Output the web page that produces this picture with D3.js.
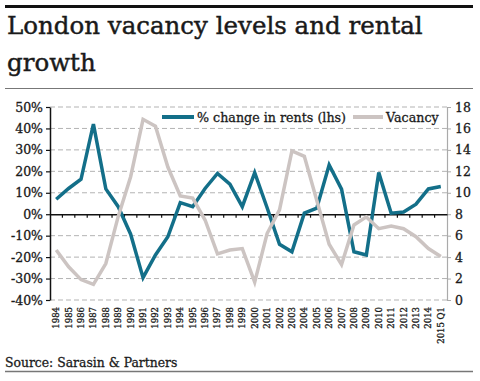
<!DOCTYPE html>
<html>
<head>
<meta charset="utf-8">
<script src="https://cdn.jsdelivr.net/npm/d3@7/dist/d3.min.js"></script>
<style>
  html, body { margin: 0; padding: 0; background: #fff; }
  svg { display: block; }
  text { paint-order: stroke; }
</style>
</head>
<body>
<svg id="chart" width="480" height="381"></svg>
<script>
const years = ["1984","1985","1986","1987","1988","1989","1990","1991","1992","1993","1994","1995","1996","1997","1998","1999","2000","2001","2002","2003","2004","2005","2006","2007","2008","2009","2010","2011","2012","2013","2014","2015 Q1"];
const rentChange = [7, 12, 16.3, 42, 11.8, 3.5, -9.3, -29.6, -19, -10.5, 5.4, 3.5, 12, 19, 14, 3.5, 19.4, 3, -14, -17.5, 0.5, 2.8, 23, 11.7, -17.5, -19, 19.4, 0.5, 1, 4.7, 11.8, 12.9];
const vacancy = [4.66, 3.1, 1.9, 1.46, 3.4, 7.8, 11.5, 16.85, 16.2, 12.4, 9.7, 9.5, 7.46, 4.3, 4.66, 4.8, 1.66, 6.2, 8.4, 13.9, 13.4, 9.3, 5.2, 3.3, 7.0, 7.75, 6.65, 6.9, 6.65, 5.9, 4.8, 4.06];
const leftTicks = [-40, -30, -20, -10, 0, 10, 20, 30, 40, 50];
const rightTicks = [0, 2, 4, 6, 8, 10, 12, 14, 16, 18];
const seriesNames = ["% change in rents (lhs)", "Vacancy"];
const titleLines = ["London vacancy levels and rental", "growth"];
const sourceText = "Source: Sarasin & Partners";

const teal = "#136f89";
const grey = "#ccc4c2";
const ink = "#1a1a1a";
const serif = "'DejaVu Serif', serif";

const svg = d3.select("#chart");
const L = 50, R = 447, T = 107, B = 300;

const x = d3.scaleBand().domain(years).range([L, R]);
const yL = d3.scaleLinear().domain([-40, 50]).range([B, T]);
const yR = d3.scaleLinear().domain([0, 18]).range([B, T]);

function ts(sel, size, sw) {
  sel.attr("font-family", serif).attr("font-size", size).attr("fill", ink)
     .attr("stroke", ink).attr("stroke-width", sw);
}

// header rules
svg.append("line").attr("x1", 5).attr("x2", 473).attr("y1", 6.5).attr("y2", 6.5)
  .attr("stroke", "#111").attr("stroke-width", 3);
svg.append("line").attr("x1", 5).attr("x2", 473).attr("y1", 88.5).attr("y2", 88.5)
  .attr("stroke", "#777").attr("stroke-width", 1.2);
svg.append("line").attr("x1", 5).attr("x2", 473).attr("y1", 371.5).attr("y2", 371.5)
  .attr("stroke", "#777").attr("stroke-width", 1.5);

// title
svg.append("g").selectAll("text").data(titleLines).join("text")
  .attr("x", 7).attr("y", (d, i) => 33.5 + i * 37)
  .call(ts, 24.5, 0.45)
  .text(d => d);

// grid
svg.append("g").selectAll("line").data(leftTicks.filter(d => d !== 0)).join("line")
  .attr("x1", L).attr("x2", R)
  .attr("y1", d => yL(d)).attr("y2", d => yL(d))
  .attr("stroke", "#b3b3b3").attr("stroke-width", 1).attr("stroke-dasharray", "5,3");

// left axis
const gl = svg.append("g").attr("transform", `translate(${L},0)`)
  .call(d3.axisLeft(yL).tickValues(leftTicks).tickFormat(d => d + "%").tickSize(4).tickSizeOuter(0));
gl.select(".domain").attr("stroke", "#111").attr("stroke-width", 1.5);
gl.selectAll(".tick line").attr("stroke", "#111").attr("stroke-width", 1.2);
gl.selectAll(".tick text").call(ts, 12.5, 0.3).attr("x", -7);

// right axis
const gr = svg.append("g").attr("transform", `translate(${R},0)`)
  .call(d3.axisRight(yR).tickValues(rightTicks).tickSize(4).tickSizeOuter(0));
gr.select(".domain").attr("stroke", "#aaa").attr("stroke-width", 1.2);
gr.selectAll(".tick line").attr("stroke", "#aaa");
gr.selectAll(".tick text").call(ts, 12.5, 0.3).attr("x", 8);

// zero axis with ticks at band boundaries
const gx = svg.append("g").attr("transform", `translate(0,${yL(0)})`)
  .call(d3.axisBottom(x).tickSize(0).tickFormat(""));
gx.select(".domain").attr("stroke", "#111").attr("stroke-width", 1.5);
svg.append("g").selectAll("line").data(years.slice(1)).join("line")
  .attr("x1", d => x(d)).attr("x2", d => x(d))
  .attr("y1", yL(0)).attr("y2", yL(0) + 3.5)
  .attr("stroke", "#111").attr("stroke-width", 1.2);

// x labels (at bottom)
svg.append("g").selectAll("text").data(years).join("text")
  .attr("transform", d => `translate(${x(d) + x.bandwidth() / 2 + 3},${B + 7}) rotate(-90)`)
  .attr("text-anchor", "end")
  .call(ts, 8.5, 0.3)
  .text(d => d);

// lines
const rentLine = d3.line().x((d, i) => x(years[i]) + x.bandwidth() / 2).y(d => yL(d));
const vacLine = d3.line().x((d, i) => x(years[i]) + x.bandwidth() / 2).y(d => yR(d));
svg.append("path").datum(rentChange).attr("d", rentLine)
  .attr("fill", "none").attr("stroke", teal).attr("stroke-width", 3.5).attr("stroke-linejoin", "miter");
svg.append("path").datum(vacancy).attr("d", vacLine)
  .attr("fill", "none").attr("stroke", grey).attr("stroke-width", 3.5).attr("stroke-linejoin", "miter");

// legend
const lg = svg.append("g");
lg.append("line").attr("x1", 162).attr("x2", 194).attr("y1", 117).attr("y2", 117)
  .attr("stroke", teal).attr("stroke-width", 4);
lg.append("text").attr("x", 197).attr("y", 121.5).call(ts, 12.7, 0.3).text(seriesNames[0]);
lg.append("line").attr("x1", 353).attr("x2", 383).attr("y1", 117).attr("y2", 117)
  .attr("stroke", grey).attr("stroke-width", 4);
lg.append("text").attr("x", 386).attr("y", 121.5).call(ts, 12.7, 0.3).text(seriesNames[1]);

// source
svg.append("text").attr("x", 5).attr("y", 367).call(ts, 12.4, 0.3).text(sourceText);
</script>
</body>
</html>
